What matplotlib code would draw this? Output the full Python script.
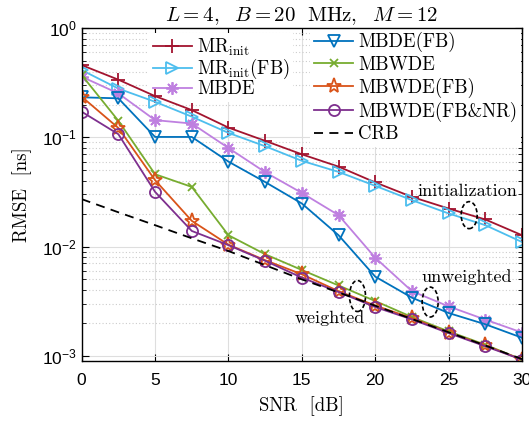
import numpy as np
import matplotlib
matplotlib.use("Agg")
import matplotlib.pyplot as plt
from matplotlib.patches import Ellipse
from matplotlib.transforms import ScaledTranslation

plt.rcParams['font.family'] = ['Liberation Sans', 'DejaVu Sans']
plt.rcParams['mathtext.fontset'] = 'cm'
SERIF = 'cmr10'

# SNR sweep [dB] and RMSE [ns] per estimator
snr = [0, 2.5, 5, 7.5, 10, 12.5, 15, 17.5, 20, 22.5, 25, 27.5, 30]
mr_init = [0.46, 0.338, 0.239, 0.178, 0.123, 0.093, 0.070, 0.054, 0.0387, 0.0285, 0.0223, 0.0177, 0.0127]
mr_init_fb = [0.414, 0.28, 0.212, 0.155, 0.110, 0.083, 0.061, 0.0483, 0.036, 0.0266, 0.0201, 0.0157, 0.011]
mbde = [0.36, 0.253, 0.144, 0.134, 0.080, 0.048, 0.031, 0.0194, 0.0079, 0.0039, 0.00283, 0.00214, 0.00163]
mbde_fb = [0.233, 0.228, 0.101, 0.101, 0.060, 0.039, 0.0248, 0.0127, 0.0053, 0.0034, 0.00246, 0.00194, 0.00146]
mbwde = [0.373, 0.142, 0.046, 0.0352, 0.0127, 0.0085, 0.0061, 0.0044, 0.00317, 0.00226, 0.00167, 0.00126, 0.00092]
mbwde_fb = [0.236, 0.122, 0.0406, 0.0172, 0.0104, 0.0075, 0.00557, 0.0039, 0.00288, 0.00221, 0.00163, 0.00124, 0.00092]
mbwde_fbnr = [0.172, 0.107, 0.0317, 0.0139, 0.0103, 0.0074, 0.00519, 0.00383, 0.00279, 0.00215, 0.00161, 0.00122, 0.00092]
crb = [0.0272, 0.0206, 0.0157, 0.0119, 0.0091, 0.00675, 0.0050, 0.0038, 0.00287, 0.00217, 0.00164, 0.00124, 0.00093]

c_red = (0.635, 0.078, 0.184)
c_cyan = (0.302, 0.745, 0.933)
c_lav = (0.75, 0.5, 0.88)
c_blue = (0.0, 0.447, 0.741)
c_green = (0.466, 0.674, 0.188)
c_orange = (0.85, 0.325, 0.098)
c_purple = (0.494, 0.184, 0.556)

fig = plt.figure(figsize=(5.29, 4.22), dpi=100)
ax = fig.add_axes([0.1544, 0.1453, 0.8324, 0.7877])

lw = 1.3
ms = 8
h1, = ax.plot(snr, mr_init, color=c_red, marker='+', ms=ms + 2, mew=1.3, lw=lw,
              label=r'$\mathrm{MR}_{\mathrm{init}}$')
h2, = ax.plot(snr, mr_init_fb, color=c_cyan, marker='>', ms=ms, mfc='none', mew=1.3, lw=lw,
              label=r'$\mathrm{MR}_{\mathrm{init}}\mathrm{(FB)}$')
h3, = ax.plot(snr, mbde, color=c_lav, marker=(8, 2, 0), ms=ms + 1, mew=1.3, lw=lw,
              label='MBDE')
h4, = ax.plot(snr, mbde_fb, color=c_blue, marker='v', ms=ms, mfc='none', mew=1.3, lw=lw,
              label='MBDE(FB)')
h5, = ax.plot(snr, mbwde, color=c_green, marker='x', ms=ms - 2, mew=1.3, lw=lw,
              label='MBWDE')
h6, = ax.plot(snr, mbwde_fb, color=c_orange, marker='*', ms=ms + 3, mfc='none', mew=1.3, lw=lw,
              label='MBWDE(FB)')
h7, = ax.plot(snr, mbwde_fbnr, color=c_purple, marker='o', ms=ms, mfc='none', mew=1.3, lw=lw,
              label='MBWDE(FB&NR)')
h8, = ax.plot(snr, crb, color='black', ls=(0, (5, 3.5)), lw=lw, label='CRB')

ax.set_yscale('log')
ax.set_xlim(0, 30)
ax.set_ylim(9e-4, 1)
ax.set_xticks([0, 5, 10, 15, 20, 25, 30])
ax.tick_params(which='both', direction='in', top=True, right=True, labelsize=12.5)
ax.tick_params(which='major', length=5, width=0.8)
ax.tick_params(which='minor', length=3, width=0.6)
ax.tick_params(axis='x', pad=9)
ax.grid(True, which='major', color='0.87', lw=0.8, ls='-')
ax.grid(True, which='minor', axis='y', color='0.8', lw=0.8, ls=(0, (1, 2)))
ax.set_axisbelow(True)
for s in ax.spines.values():
    s.set_linewidth(1.0)

ax.set_title(r'$L=4,\ \ B=20\ \ \mathrm{MHz},\ \ M=12$', fontsize=15, pad=5)
ax.set_xlabel('SNR  [dB]', family=SERIF, fontsize=13.5, labelpad=6)
ax.set_ylabel('RMSE  [ns]', family=SERIF, fontsize=13.5, labelpad=7)

# legend split in two columns of unequal length, kept under the curves
leg_kw = dict(frameon=True, fancybox=False, edgecolor='none', facecolor='white',
              framealpha=1, borderaxespad=0, borderpad=0.2, handlelength=2.1,
              handletextpad=0.25)
leg1 = ax.legend(handles=[h1, h2, h3], loc='upper left', bbox_to_anchor=(0.153, 0.986),
                 prop={'family': SERIF, 'size': 13.5}, labelspacing=-0.04, **leg_kw)
leg1.set_zorder(1.5)
ax.add_artist(leg1)
leg2 = ax.legend(handles=[h4, h5, h6, h7, h8], loc='upper left', bbox_to_anchor=(0.519, 1.0),
                 prop={'family': SERIF, 'size': 13.5}, labelspacing=0.2, **leg_kw)
leg2.set_zorder(1.5)


def ring(x, y, w_px, h_px):
    tr = fig.dpi_scale_trans + ScaledTranslation(x, y, ax.transData)
    ax.add_patch(Ellipse((0, 0), w_px / fig.dpi, h_px / fig.dpi, transform=tr,
                         fill=False, ec='black', lw=1.2, ls=(0, (2.5, 1.5)), zorder=5))


ring(26.4, 0.0194, 16, 27)
ring(23.74, 0.0031, 16, 30)
ring(18.79, 0.00352, 16, 31)
ax.text(29.7, 0.0322, 'initialization', family=SERIF, fontsize=13, ha='right', va='center')
ax.text(29.3, 0.0052, 'unweighted', family=SERIF, fontsize=13, ha='right', va='center')
ax.text(14.5, 0.00223, 'weighted', family=SERIF, fontsize=13, ha='left', va='center')

fig.savefig('out.png', dpi=100)
